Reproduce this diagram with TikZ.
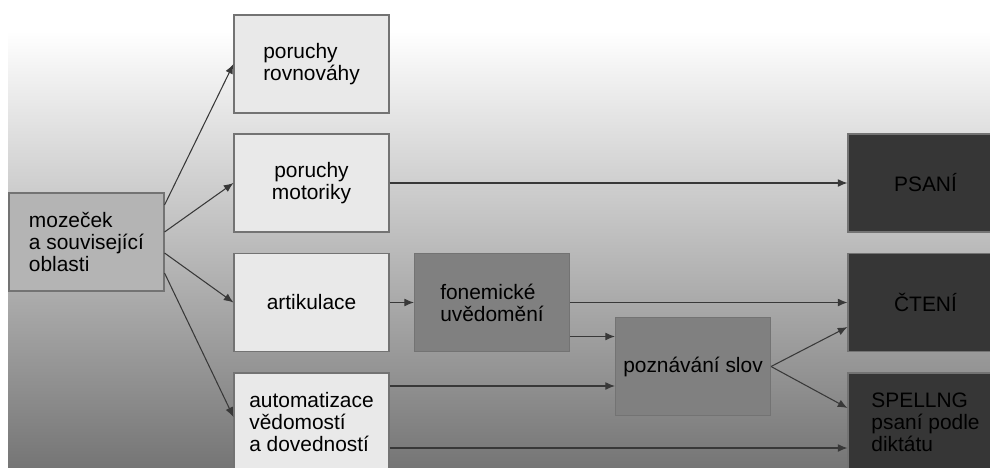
\documentclass[tikz,border=0pt]{standalone}
\usepackage{fontspec}
\setmainfont{Liberation Sans}
\usetikzlibrary{arrows.meta}
\definecolor{boxlight}{HTML}{E9E9E9}
\definecolor{boxmid}{HTML}{B4B4B4}
\definecolor{boxgray}{HTML}{808080}
\definecolor{boxdark}{HTML}{363636}
\definecolor{linegray}{HTML}{383838}
\tikzset{
  box/.style={draw=black!55, line width=0.6pt, minimum width=3.1cm, minimum height=1.96cm,
    align=left, inner sep=2pt, text=black, font=\fontsize{11.9}{12.6}\selectfont},
  darkbox/.style={box, fill=boxdark, font=\fontsize{11.9}{12.6}\selectfont\color{black}},
  arr/.style={draw=linegray, line width=0.6pt, -{Latex[length=5.5pt,width=4.5pt]}},
}

\begin{document}
\begin{tikzpicture}
    \useasboundingbox (0,0) rectangle (19.8,9.34);
    % 背景
    \shade[top color=white, middle color=black!22, bottom color=black!54] (0.16,0) rectangle (19.8,8.72);
    % 箱
    \node[box, fill=boxmid] (moz) at (1.73,4.5) {mozeček\\a související\\oblasti};
    \node[box, fill=boxlight] (rovn) at (6.23,8.06) {poruchy\\rovnováhy};
    \node[box, fill=boxlight, align=center] (motor) at (6.23,5.68) {poruchy\\motoriky};
    \node[box, fill=boxlight] (artik) at (6.23,3.29) {artikulace};
    \node[box, fill=boxlight] (autom) at (6.23,0.9) {automatizace\\vědomostí\\a dovedností};
    \node[box, fill=boxgray] (fonem) at (9.84,3.29) {fonemické\\uvědomění};
    \node[box, fill=boxgray] (pozn) at (13.86,2.01) {poznávání slov};
    \node[darkbox] (psani) at (18.51,5.68) {PSANÍ};
    \node[darkbox] (cteni) at (18.51,3.29) {ČTENÍ};
    \node[darkbox] (spell) at (18.51,0.9) {SPELLNG\\psaní podle\\diktátu};
    % 矢印
    \draw[arr] ([yshift=0.74cm]moz.east) -- (rovn.west);
    \draw[arr] ([yshift=0.2cm]moz.east) -- (motor.west);
    \draw[arr] ([yshift=-0.22cm]moz.east) -- (artik.west);
    \draw[arr] ([yshift=-0.62cm]moz.east) -- ([yshift=0.1cm]autom.west);
    \draw[arr] (motor.east) -- (psani.west);
    \draw[arr] (artik.east) -- (fonem.west);
    \draw[arr] (fonem.east) -- (cteni.west);
    \coordinate (f1) at ([yshift=-0.68cm]fonem.east);
    \draw[arr] (f1) -- (f1 -| pozn.west);
    \coordinate (a1) at ([yshift=0.72cm]autom.east);
    \draw[arr] (a1) -- (a1 -| pozn.west);
    \coordinate (a2) at ([yshift=-0.52cm]autom.east);
    \draw[arr] (a2) -- (a2 -| spell.west);
    \draw[arr] (pozn.east) -- ([yshift=-0.49cm]cteni.west);
    \draw[arr] (pozn.east) -- ([yshift=0.28cm]spell.west);%右の二本
\end{tikzpicture}
\end{document}
